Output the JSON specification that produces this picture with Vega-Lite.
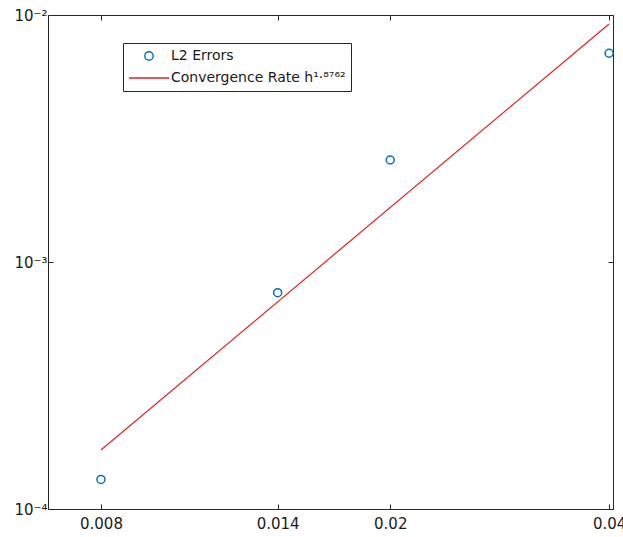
{
  "$schema": "https://vega.github.io/schema/vega-lite/v6.json",
  "width": 565,
  "height": 494,
  "autosize": {"type": "none"},
  "padding": {"left": 48, "top": 15, "right": 10, "bottom": 28},
  "background": "white",
  "config": {
    "view": {"stroke": "#262626", "strokeWidth": 1},
    "font": "DejaVu Sans",
    "axis": {
      "domain": false,
      "grid": false,
      "tickSize": -5,
      "tickColor": "#262626",
      "tickWidth": 1,
      "labelFont": "DejaVu Sans",
      "labelFontSize": 15,
      "labelColor": "#1a1a1a"
    }
  },
  "datasets": {
    "errors": [
      {"h": 0.008, "err": 0.0001318, "series": "L2 Errors"},
      {"h": 0.014, "err": 0.000751, "series": "L2 Errors"},
      {"h": 0.02, "err": 0.002588, "series": "L2 Errors"},
      {"h": 0.04, "err": 0.0070, "series": "L2 Errors"}
    ],
    "rate": [
      {"h": 0.008, "err": 0.0001733, "series": "Convergence Rate h¹·⁸⁷⁶²"},
      {"h": 0.04, "err": 0.0092, "series": "Convergence Rate h¹·⁸⁷⁶²"}
    ]
  },
  "layer": [
    {
      "data": {"name": "errors"},
      "mark": {"type": "point", "filled": false, "size": 64, "strokeWidth": 1.5, "opacity": 1},
      "encoding": {
        "x": {
          "field": "h", "type": "quantitative",
          "scale": {"type": "log", "domain": [0.006764, 0.0405], "nice": false},
          "axis": {"orient": "bottom", "values": [0.008, 0.014, 0.02, 0.04], "format": "~g", "title": null, "labelPadding": 12, "labelOverlap": false, "labelBound": false, "labelFlush": false}
        },
        "y": {
          "field": "err", "type": "quantitative",
          "scale": {"type": "log", "domain": [0.0001, 0.01], "nice": false},
          "axis": {"orient": "left", "values": [0.0001, 0.001, 0.01], "labelExpr": "datum.value < 0.0005 ? '10⁻⁴' : datum.value < 0.005 ? '10⁻³' : '10⁻²'", "title": null, "labelPadding": 6, "labelOverlap": false, "labelBound": false, "labelFlush": false}
        },
        "color": {
          "field": "series", "type": "nominal",
          "scale": {"domain": ["L2 Errors", "Convergence Rate h¹·⁸⁷⁶²"], "range": ["#0072BD", "#dd2222"]},
          "legend": {
            "title": null,
            "orient": "none",
            "legendX": 75,
            "legendY": 28,
            "direction": "vertical",
            "strokeColor": "#262626",
            "fillColor": "white",
            "padding": 5,
            "symbolSize": 1600,
            "clipHeight": 16,
            "rowPadding": 6,
            "labelOffset": 1,
            "labelLimit": 400,
            "labelFont": "DejaVu Sans",
            "labelFontSize": 14,
            "labelColor": "#1a1a1a",
            "symbolFillColor": "transparent",
            "symbolType": {"expr": "datum.value === 'L2 Errors' ? 'M -0.21 0 A 0.21 0.21 0 1 0 0.21 0 A 0.21 0.21 0 1 0 -0.21 0 Z' : 'stroke'"},
            "symbolStrokeWidth": 1.4
          }
        }
      }
    },
    {
      "data": {"name": "rate"},
      "mark": {"type": "line", "strokeWidth": 1.2},
      "encoding": {
        "x": {
          "field": "h", "type": "quantitative",
          "axis": {"orient": "top", "values": [0.008, 0.014, 0.02, 0.04], "labels": false, "title": null}
        },
        "y": {
          "field": "err", "type": "quantitative",
          "axis": {"orient": "right", "values": [0.0001, 0.001, 0.01], "labels": false, "title": null}
        },
        "color": {"field": "series", "type": "nominal"}
      }
    }
  ],
  "resolve": {"axis": {"x": "independent", "y": "independent"}}
}
